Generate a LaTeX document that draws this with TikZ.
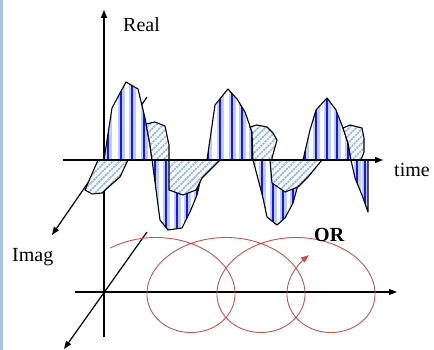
\documentclass[tikz,border=0pt]{standalone}
\usepackage{fontspec}
\setmainfont{Liberation Serif}
\usetikzlibrary{arrows.meta}
\definecolor{stripelight}{RGB}{190,205,255}
\definecolor{stripeblue}{RGB}{20,20,255}
\definecolor{hatchblue}{RGB}{150,182,224}
\definecolor{hatchbg}{RGB}{246,249,253}
\definecolor{loopred}{RGB}{200,82,80}
\definecolor{barblue}{RGB}{168,196,224}
\begin{document}
\begin{tikzpicture}[x=1pt,y=-1pt,
  axisarrow/.style={line width=1.2pt,-{Triangle[length=8pt,width=6pt]}},
  plainaxis/.style={line width=1.2pt},
  outline/.style={draw=black,line width=1.1pt,line join=round},
  hatchline/.style={draw=hatchblue,line width=1.7pt,dash pattern=on 2.2pt off 0.8pt},
  labeltext/.style={font=\fontsize{20}{24}\selectfont,inner sep=0pt,anchor=base west},
  loopline/.style={draw=loopred,line width=0.9pt}]
\useasboundingbox (0,0) rectangle (434,350);
\fill[white] (0,0) rectangle (434,350);
\fill[barblue] (0,0) rectangle (2.5,350);
% coordinates of the axes
\coordinate (vtop) at (104,10);
\coordinate (vbot) at (104,337);
\coordinate (tl) at (63,160);
\coordinate (tr) at (383,160);
\coordinate (itop) at (147,97);
\coordinate (itip) at (52,235);
\coordinate (hl) at (75,292);
\coordinate (hr) at (397,292);
\coordinate (dtop) at (147,232);
\coordinate (dtip) at (64,349);
% axes
\draw[axisarrow] (vbot) -- (vtop);
\draw[axisarrow] (tl) -- (tr);
\draw[axisarrow] (itop) -- (itip);
\draw[axisarrow] (hl) -- (hr);
\draw[axisarrow] (dtop) -- (dtip);
% main (real) wave with vertical stripes
\def\wave{(104,160) -- (112,108) -- (126,82) -- (138,89) -- (145,118) -- (150,145) -- (152,160) -- (155,182) -- (160,220) -- (168,230) -- (182,228) -- (190,212) -- (197,195) -- (200,182) -- (207,160) -- (215,105) -- (228,89) -- (237,99) -- (245,112) -- (252,132) -- (253,160) -- (257,175) -- (263,198) -- (267,217) -- (277,225) -- (285,218) -- (293,203) -- (298,185) -- (303,160) -- (310,130) -- (316,110) -- (327,98) -- (336,110) -- (343,128) -- (348,143) -- (351,160) -- (355,178) -- (362,195) -- (368,212) -- (368,160) -- cycle}
\begin{scope}
\clip \wave;
\fill[white] (90,70) rectangle (380,240);
\foreach \sx in {108,121,132,144,155,166,177,187,197,208,220,232,242,252,262,273,283,293,305,316,327,337,348,357,365}{
  \draw[line width=7pt,stripelight] (\sx,70) -- (\sx,240);
  \draw[line width=2.4pt,stripeblue] (\sx,70) -- (\sx,240);
}
\end{scope}
\draw[outline] \wave;
% hatched (imaginary) pieces
\def\shA{(98,160) -- (128,160) -- (120,177) -- (113,183) -- (102,193) -- (92,194) -- (85,190) -- cycle}
\def\shB{(146,124) -- (155,122) -- (165,126) -- (169,145) -- (169,160) -- (152,160) -- (150,145) -- cycle}
\def\shC{(169,160) -- (169,190) -- (183,195) -- (196,190) -- (202,178) -- (220,160) -- cycle}
\def\shD{(250,127) -- (257,125) -- (267,127) -- (273,133) -- (277,140) -- (272,158) -- (272,160) -- (253,160) -- (252,132) -- cycle}
\def\shE{(270,160) -- (272,183) -- (285,192) -- (298,187) -- (308,177) -- (322,160) -- cycle}
\def\shF{(343,128) -- (350,125) -- (362,128) -- (364,138) -- (364,152) -- (361,160) -- (351,160) -- (348,143) -- cycle}
\begin{scope}
\clip \shA \shB \shC \shD \shE \shF;
\fill[hatchbg] (60,100) rectangle (380,220);
\foreach \k in {-160,-153,...,380}{
  \draw[hatchline] (\k,350) -- ++(350,-350);
}
\end{scope}
\draw[outline] \shA;
\draw[outline] \shB;
\draw[outline] \shC;
\draw[outline] \shD;
\draw[outline] \shE;
\draw[outline] \shF;
\draw[plainaxis] (tl) -- (375,160);
% red looping curve
\draw[loopline,-{Triangle[length=8pt,width=6pt]}] plot[domain=-0.68:17.96,samples=420,smooth,variable=\t]
  ({156+11.14*\t+60.5*sin(\t r)},{285-47.5*cos(\t r)});
% labels
\node[labeltext] (real) at (123,32) {Real};
\node[labeltext] (time) at (394,177) {time};
\node[labeltext] (imag) at (12,261) {Imag};
\node[labeltext,font=\fontsize{20}{24}\selectfont\bfseries] (orlabel) at (314,241) {OR};
\end{tikzpicture}
\end{document}
